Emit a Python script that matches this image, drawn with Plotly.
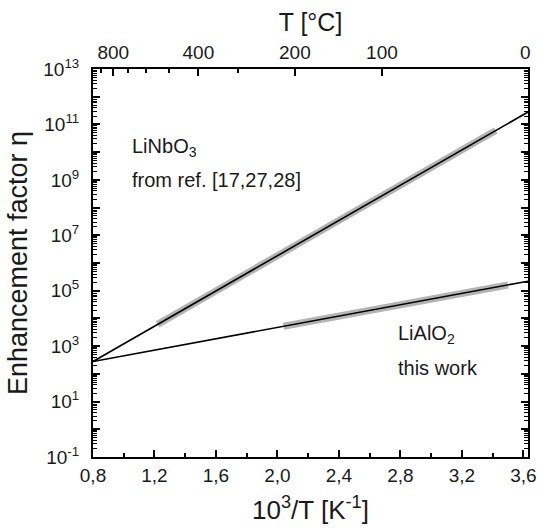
import math
import plotly.graph_objects as go

# ---- data ----
fit_x = [0.8, 3.63]
linbo3_fit_y = [2.8e2, 2.8e11]
lialo2_fit_y = [2.8e2, 2.2e5]

linbo3_data_x = [1.22, 3.42]
linbo3_data_y = [6.1e3, 6.0e10]
lialo2_data_x = [2.04, 3.50]
lialo2_data_y = [5.2e3, 1.6e5]

x_major = [0.8, 1.2, 1.6, 2.0, 2.4, 2.8, 3.2, 3.6]
x_major_text = ["0,8", "1,2", "1,6", "2,0", "2,4", "2,8", "3,2", "3,6"]
x_minor = [1.0, 1.4, 1.8, 2.2, 2.6, 3.0, 3.4]

t_major_c = [800, 400, 200, 100]
t_major_text = ["800", "400", "200", "100"]
t_minor_c = [900, 700, 600, 500, 300]
t_end_c = 0

y_exps = list(range(-1, 14))
x_range = [0.8, 3.63]

FONT = "Liberation Sans, Arial, sans-serif"
TXT = "#1a1a1a"
TICK = 19
TITLE = 26
L_M, R_M = 93, 10

def inv_t(tc):
    return 1000.0 / (tc + 273.15)

fig = go.Figure()

# grey thick data bands
fig.add_trace(go.Scatter(x=linbo3_data_x, y=linbo3_data_y, mode="lines",
                         line=dict(color="#b4b4b4", width=7), hoverinfo="skip", showlegend=False))
fig.add_trace(go.Scatter(x=lialo2_data_x, y=lialo2_data_y, mode="lines",
                         line=dict(color="#b4b4b4", width=7), hoverinfo="skip", showlegend=False))
# black fit lines
fig.add_trace(go.Scatter(x=fit_x, y=linbo3_fit_y, mode="lines",
                         line=dict(color="black", width=1.6), showlegend=False))
fig.add_trace(go.Scatter(x=fit_x, y=lialo2_fit_y, mode="lines",
                         line=dict(color="black", width=1.6), showlegend=False))
# dummy trace for top axis
fig.add_trace(go.Scatter(x=[x_range[0]], y=[1], xaxis="x2", mode="markers",
                         marker=dict(opacity=0), hoverinfo="skip", showlegend=False))

y_tickvals = [10.0 ** e for e in y_exps]
y_ticktext = [("10<sup>%d</sup>" % e) if e % 2 != 0 else "" for e in y_exps]
y_minor = [m * 10.0 ** e for e in y_exps[:-1] for m in range(2, 10)]

fig.update_layout(
    width=538, height=530,
    margin=dict(l=L_M, r=R_M, t=69, b=73),
    paper_bgcolor="white", plot_bgcolor="white",
    font=dict(family=FONT, color=TXT, size=TICK),
    xaxis=dict(
        range=x_range, tickmode="array", tickvals=x_major, ticktext=x_major_text,
        automargin=False, ticklabeloverflow="allow",
        ticks="inside", ticklen=7, tickwidth=1.5, tickcolor="black",
        showline=True, linewidth=2, linecolor="black", mirror=False,
        showgrid=False, zeroline=False,
        tickfont=dict(size=TICK, color=TXT),
        minor=dict(tickmode="array", tickvals=x_minor, ticks="inside", ticklen=4,
                   tickwidth=1.5, tickcolor="black", showgrid=False),
        title=dict(text="10<sup>3</sup>/T [K<sup>-1</sup>]", font=dict(size=TITLE, color=TXT), standoff=16),
    ),
    xaxis2=dict(
        overlaying="x", side="top", anchor="y", range=x_range,
        automargin=False,
        tickmode="array", tickvals=[inv_t(t) for t in t_major_c], ticktext=t_major_text,
        ticks="inside", ticklen=7, tickwidth=1.5, tickcolor="black",
        showline=True, linewidth=2, linecolor="black",
        showgrid=False, zeroline=False,
        tickfont=dict(size=TICK, color=TXT),
        minor=dict(tickmode="array", tickvals=[inv_t(t) for t in t_minor_c], ticks="inside",
                   ticklen=4, tickwidth=1.5, tickcolor="black", showgrid=False),
        title=dict(text="T [°C]", font=dict(size=TITLE - 1, color=TXT), standoff=4),
    ),
    yaxis=dict(
        type="log", range=[-1, 13], tickmode="array", tickvals=y_tickvals, ticktext=y_ticktext,
        automargin=False, ticklabelstandoff=8,
        ticks="inside", ticklen=7, tickwidth=1.5, tickcolor="black",
        showline=True, linewidth=2, linecolor="black", mirror="ticks",
        showgrid=False, zeroline=False,
        tickfont=dict(size=TICK, color=TXT),
        minor=dict(tickmode="array", tickvals=y_minor, ticks="inside", ticklen=4,
                   tickwidth=1, tickcolor="black", showgrid=False),
        title=dict(text="Enhancement factor η", font=dict(size=TITLE + 1, color=TXT), standoff=8),
    ),
)

# 0 °C label at top right (its position 1000/273.15 lies just past the plotted range)
x_end = inv_t(t_end_c)
fig.add_annotation(x=(x_end - x_range[0]) / (x_range[1] - x_range[0]), xref="paper",
                   y=1.0, yref="paper", yshift=4, text="0", showarrow=False,
                   xanchor="right", yanchor="bottom", font=dict(size=TICK, color=TXT))

ann_font = dict(size=20, color=TXT)
fig.add_annotation(x=1.04, y=10.18, xref="x", yref="y", text="LiNbO<sub>3</sub>",
                   showarrow=False, xanchor="left", yanchor="middle", font=ann_font)
fig.add_annotation(x=1.04, y=8.98, xref="x", yref="y", text="from ref. [17,27,28]",
                   showarrow=False, xanchor="left", yanchor="middle", font=ann_font)
fig.add_annotation(x=2.77, y=3.43, xref="x", yref="y", text="LiAlO<sub>2</sub>",
                   showarrow=False, xanchor="left", yanchor="middle", font=ann_font)
fig.add_annotation(x=2.77, y=2.2, xref="x", yref="y", text="this work",
                   showarrow=False, xanchor="left", yanchor="middle", font=ann_font)

fig.write_html("out.html")
